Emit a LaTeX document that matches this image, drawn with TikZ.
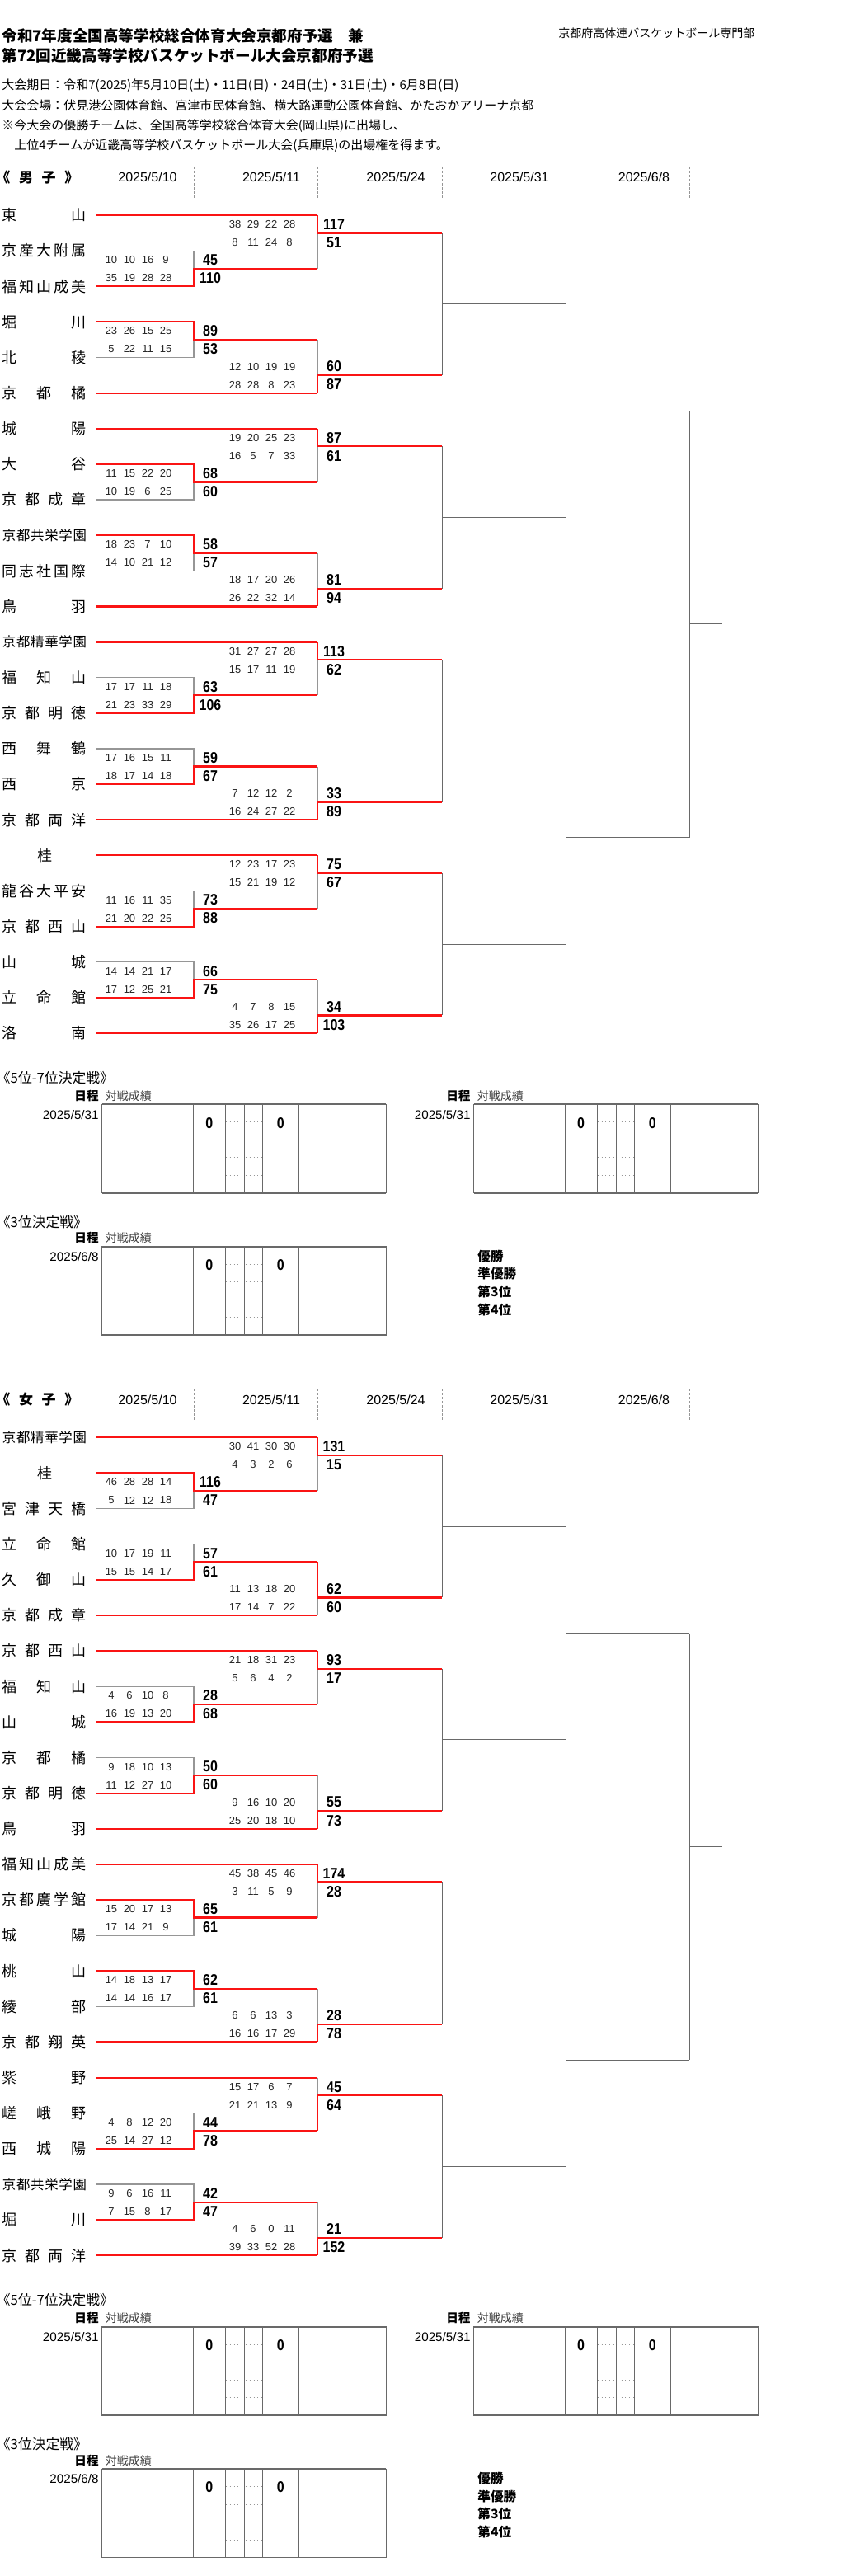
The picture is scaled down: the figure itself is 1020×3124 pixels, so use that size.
\documentclass[tikz,border=0pt]{standalone}
\usepackage{fontspec}
\setmainfont{Liberation Sans}
\newfontfamily\jp{Noto Sans CJK JP}
\newfontfamily\narrowsans[FakeStretch=0.86]{Liberation Sans}
\usetikzlibrary{calc}

\definecolor{winred}{RGB}{250,20,20}
\definecolor{losegray}{RGB}{150,150,150}
\definecolor{treegray}{RGB}{105,105,105}
\newcommand{\six}{\fontsize{8.2}{8.2}\selectfont}

\tikzset{
  win/.style={winred,line width=1.1pt},
  lose/.style={losegray,line width=0.6pt},
  tree/.style={treegray,line width=0.5pt},
  colsep/.style={losegray,line width=0.4pt,dash pattern=on 1.5pt off 1pt},
  team/.style={inner xsep=5.5pt,inner ysep=0pt,font=\jp\fontsize{9}{9}\selectfont},
  qtr/.style={inner sep=0pt,text=black!85,font=\fontsize{6.5}{6.5}\selectfont},
  pts/.style={inner sep=0pt,font=\narrowsans\bfseries\fontsize{9.3}{9.3}\selectfont},
  datehd/.style={inner sep=0pt,font=\fontsize{8}{8}\selectfont},
  jptxt/.style={inner sep=0pt,anchor=west,font=\jp\fontsize{7.5}{7.5}\selectfont},
  jptitle/.style={inner sep=0pt,anchor=west,font=\jp\bfseries\fontsize{9.3}{9.3}\selectfont},
}

% one result table of the placement games
\newcommand{\resultbox}[4]{%
  \coordinate (#1) at (#2,#3);
  \draw[tree] (#1) rectangle ++(344.8,107.4);
  \draw[tree,line width=0.9pt] (#1) -- ++(344.8,0);
  \draw[tree,line width=0.9pt] ($(#1)+(0,107.4)$) -- ++(344.8,0);
  \foreach \dx in {111.3,150.3,173.1,194.5,238.8}
    \draw[tree] ($(#1)+(\dx,0)$) -- ++(0,107.4);
  \foreach \dy in {21.4,43,64.4,86}
    \draw[losegray,line width=0.4pt,dotted] ($(#1)+(150.3,\dy)$) -- ++(44.2,0);
  \node[pts] (#1l) at ($(#1)+(130.1,22.4)$) {0};
  \node[pts] (#1r) at ($(#1)+(216.7,22.4)$) {0};
  \node[inner sep=0pt,anchor=east,font=\fontsize{7.6}{7.6}\selectfont] (#1d) at ($(#1)+(-3.6,12.4)$) {#4};
  \node[inner sep=0pt,anchor=east,font=\jp\bfseries\fontsize{7.3}{7.3}\selectfont] (#1k) at ($(#1)+(-3.6,-10.3)$) {日程};
  \node[inner sep=0pt,anchor=west,text=black!75,font=\jp\fontsize{7}{7}\selectfont] (#1m) at ($(#1)+(3.9,-10.3)$) {対戦成績};
}

% one bracket: #1 prefix, #2 heading, #3 teams, #4 first round, #5 second round
\newcommand{\drawhalf}[5]{%
  \node[jptitle,font=\jp\bfseries\fontsize{8.5}{8.5}\selectfont] (#1head) at (-5,-46) {\makebox[50pt][s]{#2}};
  \foreach \x/\d [count=\c] in {179/{2025/5/10},329/{2025/5/11},480/{2025/5/24},630/{2025/5/31},781/{2025/6/8}}
    \node[datehd] (#1date\c) at (\x,-46) {\d};
  \foreach \x [count=\c] in {235,385,536,686,836,876}
    \coordinate (#1c\c) at (\x,0);
  \foreach \x in {235,385,536,686,836}
    \draw[colsep] (\x,-59) -- (\x,-21);
  \foreach \k/\nm in {#3}
    \node[team] (#1\k) at (54,{43.13*\k}) {\makebox[51pt][s]{\nm}};
  % first round
  \foreach \ta/\tb/\mo/\wr/\qa/\qb/\pa/\pb [count=\g] in {#4}{
    \coordinate (#1a\g) at (235,{43.13*\mo});
    \draw[lose] (#1\ta.east) -| (#1c1 |- #1\tb.east) -- (#1\tb.east);
    \draw[win] (#1\wr.east) -| (#1a\g) -- (#1a\g -| #1c2);
    \foreach \q [count=\i] in \qa \node[qtr] (#1pt\g-\i) at ({113+22*\i},{43.13*\mo-10.5}) {\q};
    \foreach \q [count=\i] in \qb \node[qtr] (#1pb\g-\i) at ({113+22*\i},{43.13*\mo+11.5}) {\q};
    \node[pts] (#1st\g) at (255,{43.13*\mo-10.5}) {\pa};
    \node[pts] (#1sb\g) at (255,{43.13*\mo+11.5}) {\pb};
  }
  % second round
  \foreach \ta/\tb/\mo/\wr/\qa/\qb/\pa/\pb [count=\g] in {#5}{
    \coordinate (#1b\g) at (385,{43.13*\mo});
    \draw[lose] (385,{43.13*\ta}) -- (385,{43.13*\tb});
    \draw[win] (385,{43.13*\wr}) -- (#1b\g) -- (#1b\g -| #1c3);
    \foreach \q [count=\i] in \qa \node[qtr] (#1rt\g-\i) at ({263+22*\i},{43.13*\mo-10.5}) {\q};
    \foreach \q [count=\i] in \qb \node[qtr] (#1rb\g-\i) at ({263+22*\i},{43.13*\mo+11.5}) {\q};
    \node[pts] (#1ut\g) at (405,{43.13*\mo-10.5}) {\pa};
    \node[pts] (#1ub\g) at (405,{43.13*\mo+11.5}) {\pb};
  }
  \foreach \k in {0,5,6,11,12,17,18,23}
    \draw[win] (#1\k.east) -- (#1\k.east -| #1c2);
  % later rounds
  \foreach \ta/\tb/\mo [count=\j] in {0.5/4.5/2.5,6.5/10.5/8.5,12.5/16.5/14.5,18.5/22.5/20.5}{
    \coordinate (#1d\j) at (536,{43.13*\mo});
    \draw[tree] (536,{43.13*\ta}) -- (536,{43.13*\tb});
    \draw[tree] (#1d\j) -- (#1d\j -| #1c4);
  }
  \foreach \ta/\tb/\mo [count=\j] in {2.5/8.5/5.5,14.5/20.5/17.5}{
    \coordinate (#1e\j) at (686,{43.13*\mo});
    \draw[tree] (686,{43.13*\ta}) -- (686,{43.13*\tb});
    \draw[tree] (#1e\j) -- (#1e\j -| #1c5);
  }
  \coordinate (#1f) at (836,{43.13*11.5});
  \draw[tree] (#1e1 -| #1c5) -- (#1e2 -| #1c5);
  \draw[tree] (#1f) -- (#1f -| #1c6);
}

% placement games below a bracket
\newcommand{\placement}[1]{%
  \node[jptxt,font=\jp\fontsize{8.4}{8.4}\selectfont] (#1h57) at (-4.5,1045.7) {《5位-7位決定戦》};
  \resultbox{#1ra}{123.6}{1078.3}{2025/5/31}
  \resultbox{#1rb}{574.5}{1078.3}{2025/5/31}
  \node[jptxt,font=\jp\fontsize{8.4}{8.4}\selectfont] (#1h3) at (-4.5,1220.7) {《3位決定戦》};
  \resultbox{#1rc}{123.6}{1250.7}{2025/6/8}
  \foreach \lab [count=\i] in {優勝,準優勝,第3位,第4位}
    \node[jptxt,font=\jp\bfseries\fontsize{7.8}{7.8}\selectfont] (#1rank\i) at (579,{1240.4+21.7*\i}) {\lab};
}

\begin{document}
\begin{tikzpicture}[x=0.5pt,y=-0.5pt]
\useasboundingbox (0,0) rectangle (1020,3124);
\fill[white] (0,0) rectangle (1020,3124);

\node[jptitle] (title1) at (2,43) {令和7年度全国高等学校総合体育大会京都府予選　兼};
\node[jptitle] (title2) at (2,67) {第72回近畿高等学校バスケットボール大会京都府予選};
\node[jptxt,font=\jp\fontsize{7}{7}\selectfont] (org) at (677,40) {京都府高体連バスケットボール専門部};
\node[jptxt] (info1) at (2,104) {大会期日：令和7(2025)年5月10日(土)・11日(日)・24日(土)・31日(土)・6月8日(日)};
\node[jptxt] (info2) at (2,128) {大会会場：伏見港公園体育館、宮津市民体育館、横大路運動公園体育館、かたおかアリーナ京都};
\node[jptxt] (info3) at (2,153) {※今大会の優勝チームは、全国高等学校総合体育大会(岡山県)に出場し、};
\node[jptxt] (info4) at (2,177) {　上位4チームが近畿高等学校バスケットボール大会(兵庫県)の出場権を得ます。};

\begin{scope}[shift={(0,261)}]
\drawhalf{m}{《\hfill 男\hfill 子\hfill 》}
{0/東\hfill 山,1/京\hfill 産\hfill 大\hfill 附\hfill 属,2/福\hfill 知\hfill 山\hfill 成\hfill 美,
 3/堀\hfill 川,4/北\hfill 稜,5/京\hfill 都\hfill 橘,
 6/城\hfill 陽,7/大\hfill 谷,8/京\hfill 都\hfill 成\hfill 章,
 9/{\six 京\hfill 都\hfill 共\hfill 栄\hfill 学\hfill 園},10/同\hfill 志\hfill 社\hfill 国\hfill 際,11/鳥\hfill 羽,
 12/{\six 京\hfill 都\hfill 精\hfill 華\hfill 学\hfill 園},13/福\hfill 知\hfill 山,14/京\hfill 都\hfill 明\hfill 徳,
 15/西\hfill 舞\hfill 鶴,16/西\hfill 京,17/京\hfill 都\hfill 両\hfill 洋,
 18/\hfill 桂\hfill,19/龍\hfill 谷\hfill 大\hfill 平\hfill 安,20/京\hfill 都\hfill 西\hfill 山,
 21/山\hfill 城,22/立\hfill 命\hfill 館,23/洛\hfill 南}
{1/2/1.5/2/{10,10,16,9}/{35,19,28,28}/45/110,
 3/4/3.5/3/{23,26,15,25}/{5,22,11,15}/89/53,
 7/8/7.5/7/{11,15,22,20}/{10,19,6,25}/68/60,
 9/10/9.5/9/{18,23,7,10}/{14,10,21,12}/58/57,
 13/14/13.5/14/{17,17,11,18}/{21,23,33,29}/63/106,
 15/16/15.5/16/{17,16,15,11}/{18,17,14,18}/59/67,
 19/20/19.5/20/{11,16,11,35}/{21,20,22,25}/73/88,
 21/22/21.5/22/{14,14,21,17}/{17,12,25,21}/66/75}
{0/1.5/0.5/0/{38,29,22,28}/{8,11,24,8}/117/51,
 3.5/5/4.5/5/{12,10,19,19}/{28,28,8,23}/60/87,
 6/7.5/6.5/6/{19,20,25,23}/{16,5,7,33}/87/61,
 9.5/11/10.5/11/{18,17,20,26}/{26,22,32,14}/81/94,
 12/13.5/12.5/12/{31,27,27,28}/{15,17,11,19}/113/62,
 15.5/17/16.5/17/{7,12,12,2}/{16,24,27,22}/33/89,
 18/19.5/18.5/18/{12,23,17,23}/{15,21,19,12}/75/67,
 21.5/23/22.5/23/{4,7,8,15}/{35,26,17,25}/34/103}
\placement{m}
\end{scope}

\begin{scope}[shift={(0,1743.3)}]
\drawhalf{w}{《\hfill 女\hfill 子\hfill 》}
{0/{\six 京\hfill 都\hfill 精\hfill 華\hfill 学\hfill 園},1/\hfill 桂\hfill,2/宮\hfill 津\hfill 天\hfill 橋,
 3/立\hfill 命\hfill 館,4/久\hfill 御\hfill 山,5/京\hfill 都\hfill 成\hfill 章,
 6/京\hfill 都\hfill 西\hfill 山,7/福\hfill 知\hfill 山,8/山\hfill 城,
 9/京\hfill 都\hfill 橘,10/京\hfill 都\hfill 明\hfill 徳,11/鳥\hfill 羽,
 12/福\hfill 知\hfill 山\hfill 成\hfill 美,13/京\hfill 都\hfill 廣\hfill 学\hfill 館,14/城\hfill 陽,
 15/桃\hfill 山,16/綾\hfill 部,17/京\hfill 都\hfill 翔\hfill 英,
 18/紫\hfill 野,19/嵯\hfill 峨\hfill 野,20/西\hfill 城\hfill 陽,
 21/{\six 京\hfill 都\hfill 共\hfill 栄\hfill 学\hfill 園},22/堀\hfill 川,23/京\hfill 都\hfill 両\hfill 洋}
{1/2/1.5/1/{46,28,28,14}/{5,12,12,18}/116/47,
 3/4/3.5/4/{10,17,19,11}/{15,15,14,17}/57/61,
 7/8/7.5/8/{4,6,10,8}/{16,19,13,20}/28/68,
 9/10/9.5/10/{9,18,10,13}/{11,12,27,10}/50/60,
 13/14/13.5/13/{15,20,17,13}/{17,14,21,9}/65/61,
 15/16/15.5/15/{14,18,13,17}/{14,14,16,17}/62/61,
 19/20/19.5/20/{4,8,12,20}/{25,14,27,12}/44/78,
 21/22/21.5/22/{9,6,16,11}/{7,15,8,17}/42/47}
{0/1.5/0.5/0/{30,41,30,30}/{4,3,2,6}/131/15,
 3.5/5/4.5/3.5/{11,13,18,20}/{17,14,7,22}/62/60,
 6/7.5/6.5/6/{21,18,31,23}/{5,6,4,2}/93/17,
 9.5/11/10.5/11/{9,16,10,20}/{25,20,18,10}/55/73,
 12/13.5/12.5/12/{45,38,45,46}/{3,11,5,9}/174/28,
 15.5/17/16.5/17/{6,6,13,3}/{16,16,17,29}/28/78,
 18/19.5/18.5/19.5/{15,17,6,7}/{21,21,13,9}/45/64,
 21.5/23/22.5/23/{4,6,0,11}/{39,33,52,28}/21/152}
\placement{w}
\end{scope}
\end{tikzpicture}
\end{document}
